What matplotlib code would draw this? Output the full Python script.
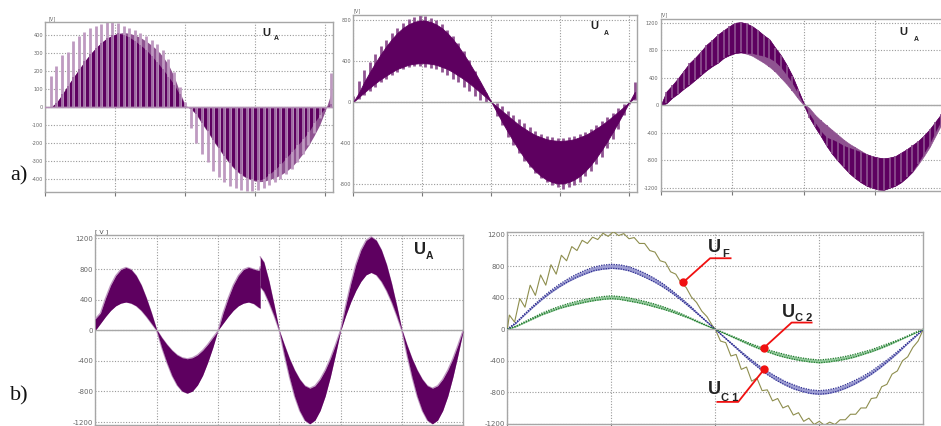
import numpy as np
import matplotlib
matplotlib.use('Agg')
import matplotlib.pyplot as plt

W, H = 941, 426
DARK = '#5e0060'
MID = '#8f5391'
LIGHT = '#bf9ac1'
GRID = '#9a9a9a'
LABEL_FONT = ['Liberation Sans Narrow', 'Liberation Sans', 'DejaVu Sans']

# a) left panel, samples every 0.4 ms
a1_spike = [0, 175, 230, 290, 310, 370, 395, 420, 440, 455, 465, 473, 475, 470, 450, 440, 430, 415, 395, 375, 350, 320, 270, 195, 110, 30,
            -120, -200, -260, -310, -360, -390, -420, -440, -455, -465, -470, -470, -465, -450, -435, -420, -400, -375, -345, -305, -265, -210, -145, -60, -5, 190]
a1_mid = [0, 0, 25, 70, 120, 165, 210, 255, 295, 330, 360, 385, 400, 412, 416, 412, 402, 388, 368, 345, 318, 282, 235, 170, 85, 10,
          -10, -45, -95, -140, -190, -235, -280, -320, -355, -380, -398, -410, -417, -416, -405, -395, -380, -360, -335, -300, -260, -215, -160, -100, -20, 75]
a1_dark = [0, 0, 25, 70, 120, 165, 210, 255, 295, 330, 360, 385, 400, 412, 405, 390, 370, 345, 320, 285, 250, 210, 170, 125, 70, 5,
           -10, -40, -90, -135, -185, -230, -275, -315, -350, -375, -395, -405, -410, -400, -375, -350, -320, -285, -250, -215, -180, -140, -90, -45, 0, 15]

# a) middle panel
a2_spike_hi = [60, 210, 310, 390, 470, 550, 610, 680, 730, 770, 810, 830, 850, 845, 825, 800, 765, 710, 650, 580, 500, 410, 300, 190, 90, 0,
               -10, -40, -90, -130, -170, -210, -245, -280, -310, -330, -345, -355, -355, -345, -335, -315, -290, -260, -225, -190, -150, -105, -60, -20, 0, 200]
a2_spike_lo = [0, 30, 70, 110, 150, 195, 230, 265, 295, 320, 340, 350, 355, 345, 335, 320, 295, 265, 230, 195, 150, 110, 60, 20, 0, 0,
               -140, -230, -340, -420, -500, -575, -640, -695, -745, -785, -815, -835, -850, -835, -810, -780, -730, -675, -610, -540, -455, -360, -260, -130, -20, 20]
a2_hi = [0, 90, 199, 294, 385, 470, 548, 618, 678, 726, 761, 785, 799, 799, 785, 761, 726, 678, 618, 548, 470, 385, 294, 199, 100, 0,
         -45, -90, -135, -180, -225, -260, -295, -325, -345, -365, -375, -380, -380, -375, -365, -345, -325, -295, -260, -225, -185, -140, -95, -48, 0, 100]
a2_lo = [0, 48, 95, 140, 185, 225, 260, 295, 325, 345, 365, 375, 380, 380, 375, 365, 345, 325, 295, 260, 225, 185, 140, 95, 48, 0,
         -100, -199, -294, -385, -470, -548, -618, -678, -726, -761, -785, -799, -799, -785, -761, -726, -678, -618, -548, -470, -385, -294, -199, -100, 0, 40]

# a) right panel, outer band then the darker inner band
a3_hi = [0, 200, 290, 390, 500, 610, 690, 780, 880, 950, 1030, 1090, 1150, 1200, 1210, 1190, 1150, 1090, 1020, 960, 840, 730, 590, 430, 230, 30,
         -40, -140, -220, -290, -360, -430, -500, -560, -610, -660, -710, -740, -760, -770, -760, -740, -690, -640, -580, -520, -440, -350, -240, -130, -40]
a3_lo = [0, 30, 110, 170, 240, 300, 370, 440, 510, 570, 620, 690, 730, 760, 770, 750, 720, 670, 620, 560, 490, 400, 310, 210, 100, 0,
         -180, -320, -450, -590, -710, -810, -900, -990, -1060, -1120, -1170, -1200, -1225, -1230, -1200, -1170, -1120, -1050, -970, -860, -740, -610, -450, -290, -120]
a3_dark_hi = [0, 200, 290, 390, 500, 610, 690, 780, 880, 950, 1030, 1090, 1150, 1200, 1210, 1190, 1150, 1090, 1020, 960, 840, 730, 590, 430, 230, 30,
              -130, -260, -380, -470, -500, -540, -590, -620, -650, -680, -710, -740, -760, -770, -760, -740, -690, -640, -580, -520, -440, -350, -240, -130, -40]
a3_dark_lo = [0, 30, 110, 170, 240, 300, 370, 440, 510, 570, 620, 690, 730, 760, 770, 760, 760, 740, 720, 690, 640, 560, 450, 330, 180, 20,
              -180, -320, -450, -590, -710, -810, -900, -990, -1060, -1120, -1170, -1200, -1225, -1230, -1200, -1170, -1120, -1050, -960, -830, -690, -550, -380, -220, -80]

# b) left panel, 12 samples per division
b1_hi = [150, 225, 420, 590, 715, 795, 822, 795, 715, 590, 420, 225, 10,
         -95, -185, -262, -322, -358, -372, -358, -322, -262, -185, -95, -10,
         225, 420, 590, 715, 795, 822, 800, 780,
         890, 640, 330, 0,
         -190, -370, -520, -640, -725, -757, -725, -640, -520, -370, -190, 0,
         320, 610, 860, 1050, 1175, 1222, 1175, 1050, 860, 610, 320, 10,
         -190, -370, -520, -640, -725, -757, -725, -640, -520, -370, -190, 0]
b1_lo = [0, 90, 180, 260, 320, 355, 370, 355, 320, 260, 180, 90, 0,
         -225, -420, -590, -715, -795, -822, -795, -715, -590, -420, -225, 0,
         90, 180, 260, 320, 355, 370, 350, 300,
         510, 360, 190, 0,
         -320, -610, -860, -1050, -1175, -1222, -1175, -1050, -860, -610, -320, -10,
         190, 370, 520, 640, 725, 757, 725, 640, 520, 370, 190, 0,
         -320, -610, -860, -1050, -1175, -1222, -1175, -1050, -860, -610, -320, -10]
b1_jump = 2.69
b1_jump_hi = [830, 960]
b1_jump_lo = [290, 570]

# b) right panel
uf_pos = [0, 180, 90, 390, 280, 560, 430, 690, 560, 820, 700, 940, 870, 1050, 1000, 1130, 1090, 1170, 1140, 1220, 1180,
          1240, 1190, 1215, 1150, 1165, 1090, 1090, 1000, 980, 870, 850, 730, 700, 590, 530, 410, 340, 230, 160, 50]
uf_neg = [0, -150, -170, -340, -320, -510, -480, -660, -620, -780, -770, -910, -880, -1000, -970, -1090, -1060, -1170, -1130, -1210, -1170,
          -1220, -1180, -1210, -1150, -1150, -1080, -1080, -1000, -1000, -880, -870, -730, -700, -570, -530, -400, -350, -230, -150, 0]
blue_hi = [0, 85, 195, 300, 400, 490, 570, 640, 700, 750, 790, 815, 825, 818, 795, 755, 705, 645, 575, 490, 400, 305, 200, 100, 0,
           -95, -190, -285, -375, -460, -535, -600, -660, -705, -745, -770, -780, -770, -745, -705, -655, -600, -535, -455, -375, -285, -190, -95, 0]
blue_lo = [0, 80, 185, 285, 380, 465, 540, 605, 660, 705, 745, 765, 775, 768, 745, 705, 655, 600, 535, 460, 375, 285, 190, 95, 0,
           -100, -200, -300, -400, -490, -575, -645, -705, -755, -790, -815, -825, -815, -790, -750, -700, -640, -570, -490, -400, -305, -200, -100, 0]
green_hi = [0, 40, 95, 150, 205, 250, 290, 325, 355, 380, 400, 415, 425, 415, 400, 375, 350, 320, 285, 245, 200, 150, 100, 50, 0,
            -45, -90, -135, -180, -220, -260, -290, -320, -345, -365, -380, -390, -380, -365, -345, -320, -290, -260, -220, -180, -140, -95, -45, 0]
green_lo = [0, 35, 85, 135, 185, 225, 265, 295, 320, 345, 365, 380, 390, 380, 360, 340, 315, 285, 255, 220, 180, 140, 90, 45, 0,
            -50, -100, -150, -200, -245, -285, -325, -355, -380, -400, -415, -425, -415, -400, -380, -355, -320, -285, -245, -200, -150, -100, -50, 0]

fig = plt.figure(figsize=(W / 100, H / 100), dpi=100, facecolor='white')


def make_panel(box, zero_px, px_per_volt, px_per_unit, yticks, xstep, fontsize):
    left, right, top, bottom = box
    ax = fig.add_axes([left / W, 1 - bottom / H, (right - left) / W, (bottom - top) / H])
    ax.set_xlim(0, (right - left) / px_per_unit)
    ax.set_ylim((zero_px - bottom) / px_per_volt, (zero_px - top) / px_per_volt)
    ax.set_xticks(np.arange(0, (right - left) / px_per_unit, xstep))
    ax.set_yticks(yticks)
    ax.set_xticklabels([])
    ax.set_yticklabels([str(v) for v in yticks])
    ax.grid(True, color=GRID, linestyle=(0, (1, 1.5)), linewidth=0.8)
    ax.set_axisbelow(True)
    ax.tick_params(axis='y', length=0, pad=1.5, labelsize=fontsize, labelcolor='#666666')
    ax.tick_params(axis='x', length=3, color='#777777', width=0.8)
    for spine in ax.spines.values():
        spine.set_color('#a6a6a6')
        spine.set_linewidth(1.0)
    ax.axhline(0, color='#a8a8a8', linewidth=1.0, zorder=5)
    return ax


def bars(ax, t, lo, hi, color, width):
    ax.vlines(t, lo, hi, color=color, linewidth=width, capstyle='butt')


def label(ax, x, y, main, sub, x2, y2, size):
    ax.text(x, y, main, family=LABEL_FONT, fontweight='bold', fontsize=size, color='#222222',
            ha='center', va='center', zorder=8)
    ax.text(x2, y2, sub, family=LABEL_FONT, fontweight='bold', fontsize=size * 0.62, color='#222222',
            ha='center', va='center', zorder=8)


# a) left
ax = make_panel((45.3, 333, 21.7, 192), 107, 0.179, 14.0,
                [400, 300, 200, 100, 0, -100, -200, -300, -400], 5, 3.6)
t = np.arange(len(a1_dark)) * 0.4
bars(ax, t, 0, a1_spike, LIGHT, 2.0)
ax.fill_between(t, 0, a1_mid, color=MID, linewidth=0)
ax.fill_between(t, 0, a1_dark, color=DARK, linewidth=0)
bars(ax, t, 0, a1_dark, '#9c66a0', 1.3)
ax.axhline(0, color='#b68fb8', linewidth=1.0, zorder=5)
ax.text(0.012, 1.005, '[V]', transform=ax.transAxes, fontsize=3.6, color='#666666', va='bottom')
label(ax, 15.8, 413, 'U', 'A', 16.5, 380, 8)

# a) middle
ax = make_panel((353.3, 636.7, 14.7, 191.7), 102, 0.102, 13.8, [800, 400, 0, -400, -800], 5, 3.6)
t = np.arange(len(a2_hi)) * 0.4
bars(ax, t, a2_spike_lo, a2_spike_hi, MID, 2.0)
ax.fill_between(t, a2_lo, a2_hi, color=DARK, linewidth=0.6, zorder=3)
ax.text(0.0, 1.01, '[V]', transform=ax.transAxes, fontsize=3.6, color='#666666', va='bottom')
label(ax, 17.5, 745, 'U', 'A', 18.3, 673, 8)

# a) right
ax = make_panel((660.7, 942, 19.3, 190.7), 105.3, 0.06875, 14.3, [1200, 800, 400, 0, -400, -800, -1200], 5, 3.6)
t = np.arange(len(a3_hi)) * 0.4
ax.fill_between(t, a3_lo, a3_hi, color=MID, linewidth=0.4)
ax.fill_between(t, a3_dark_lo, a3_dark_hi, color=DARK, linewidth=0.4)
bars(ax, t, a3_lo, a3_hi, MID, 1.2)
ax.text(0.0, 1.01, '[V]', transform=ax.transAxes, fontsize=3.6, color='#666666', va='bottom')
label(ax, 17.0, 1062, 'U', 'A', 17.85, 964, 8)

# b) left
ax = make_panel((95.3, 462.7, 235.3, 425), 330.3, 0.0765, 61.3, [1200, 800, 400, 0, -400, -800, -1200], 1, 5)
t = np.arange(len(b1_hi)) / 12
hi = np.array(b1_hi)
lo = np.array(b1_lo)
before = t < b1_jump
t1 = np.r_[t[before], b1_jump]
hi1 = np.r_[hi[before], b1_jump_hi[0]]
lo1 = np.r_[lo[before], b1_jump_lo[0]]
t2 = np.r_[b1_jump, t[~before]]
hi2 = np.r_[b1_jump_hi[1], hi[~before]]
lo2 = np.r_[b1_jump_lo[1], lo[~before]]
for tt, h, l in ((t1, hi1, lo1), (t2, hi2, lo2)):
    ax.plot(tt, h, color=LIGHT, linewidth=0.9, zorder=3)
    ax.plot(tt, l, color=LIGHT, linewidth=0.9, zorder=3)
    ax.fill_between(tt, l, h, color=DARK, linewidth=0, zorder=4)
ax.text(0.0, 1.005, '[ V ]', transform=ax.transAxes, fontsize=4.5, color='#444444', va='bottom')
label(ax, 5.3, 1059, 'U', 'A', 5.45, 971, 12)

# b) right
ax = make_panel((507.3, 923.3, 232, 423.7), 329.3, 0.07875, 104, [1200, 800, 400, 0, -400, -800, -1200], 1, 5)
uf_t = np.r_[0, np.linspace(0.02, 1.97, 40), 2, np.linspace(2.05, 3.95, 39), 4]
ax.plot(uf_t, uf_pos + uf_neg, color='#8e8e4e', linewidth=0.8, zorder=4)
band_t = np.arange(len(blue_hi)) / 12
ax.fill_between(band_t, blue_lo, blue_hi, color='#9c9cd2', linewidth=0.4, zorder=3)
ax.fill_between(band_t, green_lo, green_hi, color='#93c99c', linewidth=0.4, zorder=3)
for series in (blue_hi, blue_lo):
    ax.plot(band_t, series, color='#2c2c90', linewidth=0.9, linestyle=(0, (1, 1)), zorder=4)
for series in (green_hi, green_lo):
    ax.plot(band_t, series, color='#1f7a2c', linewidth=0.9, linestyle=(0, (1, 1)), zorder=4)

# red leaders on b) right: dot, elbow, end of the shelf
leaders = [([1.692, 1.95, 2.147], [597, 902, 902]),
           ([2.47, 2.734, 2.926], [-233, 85, 85]),
           ([2.47, 2.22, 2.02], [-508, -923, -923])]
for lx, ly in leaders:
    ax.plot(lx, ly, color='#f01010', linewidth=1.3, zorder=7)
    ax.plot(lx[0], ly[0], 'o', color='#f01010', markersize=5, zorder=7)
label(ax, 1.99, 1041, 'U', 'F', 2.10, 952, 13)
label(ax, 2.70, 216, 'U', 'C 2', 2.846, 148, 13)
label(ax, 1.99, -762, 'U', 'C 1', 2.135, -868, 13)

fig.text(10 / W, 1 - 176 / H, 'a)', family='Liberation Serif', fontsize=16, color='#111111', va='center')
fig.text(10 / W, 1 - 396 / H, 'b)', family='Liberation Serif', fontsize=16, color='#111111', va='center')

fig.savefig('out.png', dpi=100)
